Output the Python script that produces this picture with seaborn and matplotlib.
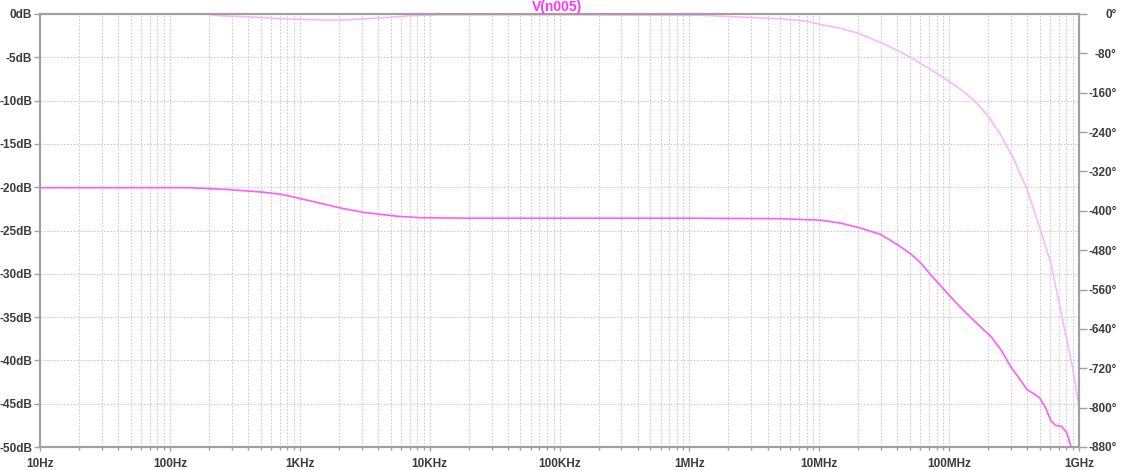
import numpy as np
import pandas as pd
import matplotlib
matplotlib.use("Agg")
import matplotlib.pyplot as plt
import seaborn as sns

# ---- data ----
mag_freq = [10, 185, 240, 445, 700, 1560, 2200, 4100, 7000, 12e3, 100e3, 1.2e6,
            2.5e6, 5e6, 8.1e6, 10.2e6, 14.5e6, 19.7e6, 29.7e6, 40e6, 53e6, 72e6, 96e6,
            125e6, 153e6, 180e6, 209e6, 250e6, 309e6, 400e6, 508e6, 605e6, 695e6,
            785e6, 888e6, 1e9]
mag_db = [0.0, 0.0, -0.2, -0.35, -0.54, -0.7, -0.68, -0.46, -0.2, -0.1, -0.1, -0.15,
          -0.35, -0.55, -0.85, -1.2, -1.65, -2.2, -3.3, -4.2, -5.2, -6.4, -7.6,
          -8.8, -9.9, -11.0, -12.2, -14.0, -16.5, -20.3, -25.1, -28.7, -33.0,
          -36.8, -40.7, -45.3]

ph_freq = [10, 100, 142, 289, 519, 741, 1262, 2037, 3066, 5605, 8433, 20e3, 100e3,
           1e6, 5e6, 10.2e6, 14.6e6, 20.8e6, 29.7e6, 42.3e6, 50.8e6, 60.4e6, 72.1e6,
           103e6, 123e6, 147e6, 209e6, 250e6, 297e6, 356e6, 400e6, 449e6, 497e6,
           553e6, 605e6, 661e6, 735e6, 807e6, 866e6, 947e6]
ph_deg = [-353, -353, -353, -357, -362, -367, -381, -394, -403, -411, -414, -415, -415,
          -415, -416, -419, -425, -435, -448, -473, -488, -506, -530, -575, -597,
          -617, -655, -682, -716, -745, -764, -772, -780, -800, -826, -836,
          -838, -852, -878, -900]

x_ticks = [10, 100, 1e3, 1e4, 1e5, 1e6, 1e7, 1e8, 1e9]
x_labels = ["10Hz", "100Hz", "1KHz", "10KHz", "100KHz", "1MHz", "10MHz", "100MHz", "1GHz"]
db_ticks = [0, -5, -10, -15, -20, -25, -30, -35, -40, -45, -50]
db_labels = [f"{v}dB" for v in db_ticks]
deg_ticks = [0, -80, -160, -240, -320, -400, -480, -560, -640, -720, -800, -880]
deg_labels = [f"{v}\u00b0" for v in deg_ticks]
title = "V(n005)"

# ---- styling ----
sns.set_style("white")
plt.rcParams['font.family'] = ['Liberation Sans', 'DejaVu Sans']

grid_col = "#cccccc"
spine_col = "#a0a0a0"
txt_col = "#3c3c3c"
mag_col = "#ffb0ff"
ph_col = "#ff5cff"

fig = plt.figure(figsize=(11.22, 4.70), dpi=100)
ax = fig.add_axes([40 / 1122, 23 / 470, 1039 / 1122, 433 / 470])
ax2 = ax.twinx()

mag_df = pd.DataFrame({"f": mag_freq, "v": mag_db})
ph_df = pd.DataFrame({"f": ph_freq, "v": ph_deg})

sns.lineplot(data=mag_df, x="f", y="v", ax=ax, color=mag_col, linewidth=1.1)
sns.lineplot(data=ph_df, x="f", y="v", ax=ax2, color=ph_col, linewidth=1.2)

ax.set_xscale("log")
ax.set_xlim(10, 1e9)
ax.set_ylim(-50, 0)
ax2.set_ylim(-880, 0)

ax.set_xticks(x_ticks)
ax.set_xticklabels(x_labels)
minor = [m * d for d in [10, 100, 1e3, 1e4, 1e5, 1e6, 1e7, 1e8] for m in range(2, 10)]
ax.set_xticks(minor, minor=True)
ax.xaxis.set_minor_formatter(matplotlib.ticker.NullFormatter())
ax.set_yticks(db_ticks)
ax.set_yticklabels(db_labels)
ax2.set_yticks(deg_ticks)
ax2.set_yticklabels(deg_labels, ha="right")

for a in (ax, ax2):
    a.set_xlabel("")
    a.set_ylabel("")
    for s in a.spines.values():
        s.set_color(spine_col)
        s.set_linewidth(1.5)

ax.grid(True, which="major", axis="both", color=grid_col, linestyle=(0, (1.5, 1.5)), linewidth=0.8)
ax.grid(True, which="minor", axis="x", color=grid_col, linestyle=(0, (1.5, 1.5)), linewidth=0.8)
ax2.grid(False)

lab = dict(labelsize=8.5, labelcolor=txt_col, color=spine_col)
ax.tick_params(axis="y", which="major", direction="out", length=4.5, width=1, pad=1, left=True, **lab)
ax.tick_params(axis="x", which="major", direction="out", length=3, width=1, pad=5, bottom=True, **lab)
ax.tick_params(axis="x", which="minor", direction="out", length=2, width=1, bottom=True, color=spine_col)
ax2.tick_params(axis="y", which="major", direction="out", length=5.5, width=1, pad=21.5, right=True, **lab)

for t in ax.get_xticklabels() + ax.get_yticklabels() + ax2.get_yticklabels():
    t.set_fontweight("bold")

fig.text(557 / 1122, 1 - 7 / 470, title, color="#ff33ff", fontsize=10, fontweight="bold",
         ha="center", va="center")

fig.savefig("out.png", dpi=100, facecolor="white")
